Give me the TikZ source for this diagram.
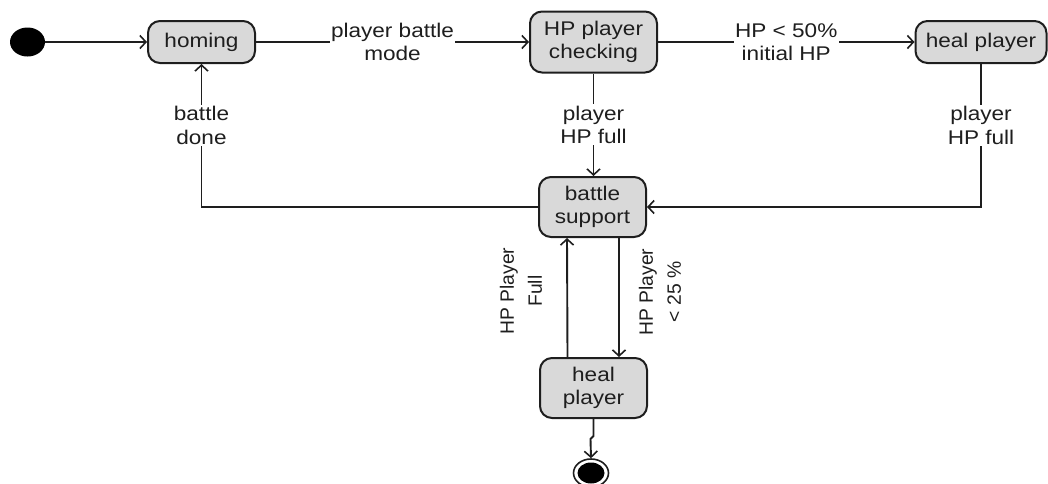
\documentclass[tikz,border=0pt]{standalone}
\usepackage{fontspec}
\setmainfont{Liberation Sans}[FakeStretch=1.14]
\newfontfamily\plainsans{Liberation Sans}
\usetikzlibrary{arrows.meta,shapes.geometric}
\definecolor{boxfill}{HTML}{D9D9D9}
\definecolor{ink}{HTML}{1E1E1E}
\begin{document}
\begin{tikzpicture}[x=1pt,y=-1pt,
  txt/.style={font=\fontsize{19.8}{23.5}\selectfont, text=ink},
  state/.style={txt, draw=ink, line width=2pt, fill=boxfill, rounded corners=12pt, align=center, inner sep=0pt},
  lbl/.style={txt, fill=white, inner sep=1.5pt, align=center},
  rot/.style={font=\plainsans\fontsize{19.3}{28}\selectfont, text=ink, rotate=90, align=center, inner sep=0pt},
  tr/.style={draw=ink, line width=1.9pt, -{Straight Barb[length=6pt,width=13pt,line width=1.6pt]}}
]
\useasboundingbox (0,0) rectangle (1048,483);

\node[ellipse, fill=black, minimum width=35pt, minimum height=29pt, inner sep=0pt] (init) at (27.5,42) {};
\node[state, minimum width=107pt, minimum height=42pt] (homing) at (201.5,42) {homing};
\node[state, minimum width=127pt, minimum height=61pt] (check) at (593.5,42) {HP player\\checking};
\node[state, minimum width=131pt, minimum height=42pt] (healt) at (981,42) {heal player};
\node[state, minimum width=107pt, minimum height=60pt] (bs) at (592.5,207) {battle\\support};
\node[state, minimum width=107pt, minimum height=60pt] (healb) at (593.5,388) {heal\\player};
\node[ellipse, draw=ink, line width=1.6pt, fill=white, minimum width=35pt, minimum height=28pt, inner sep=0pt] (end) at (591,473) {};
\node[ellipse, fill=black, minimum width=27pt, minimum height=21pt, inner sep=0pt] (endin) at (end.center) {};

\draw[tr] (init.east) -- (homing.west);
\draw[tr] (homing.east) -- node[lbl] {player battle\\mode} (homing.east -| check.west);
\draw[tr] (check.east |- healt.west) -- node[lbl] {HP < 50\%\\initial HP} (healt.west);
\draw[tr] (check.south) -- node[lbl] {player\\HP full} (check.south |- bs.north);
\draw[tr] (bs.west) -| node[lbl, pos=0.786] {battle\\done} (homing.south);
\draw[tr] (healt.south) |- node[lbl, pos=0.214] {player\\HP full} (bs.east);
\draw[tr] ([xshift=-26pt]healb.north) -- ([xshift=-25.5pt]bs.south);
\draw[tr] ([xshift=26.5pt]bs.south) -- ([xshift=25.5pt]healb.north);
\draw[tr] (healb.south) -- ++(0,17) -- ++(-3,3) -- (end.north);

\node[rot] (lf) at (521,291) {HP Player\\Full};
\node[rot] (lq) at (660,292) {HP Player\\< 25 \%};
\end{tikzpicture}
\end{document}
